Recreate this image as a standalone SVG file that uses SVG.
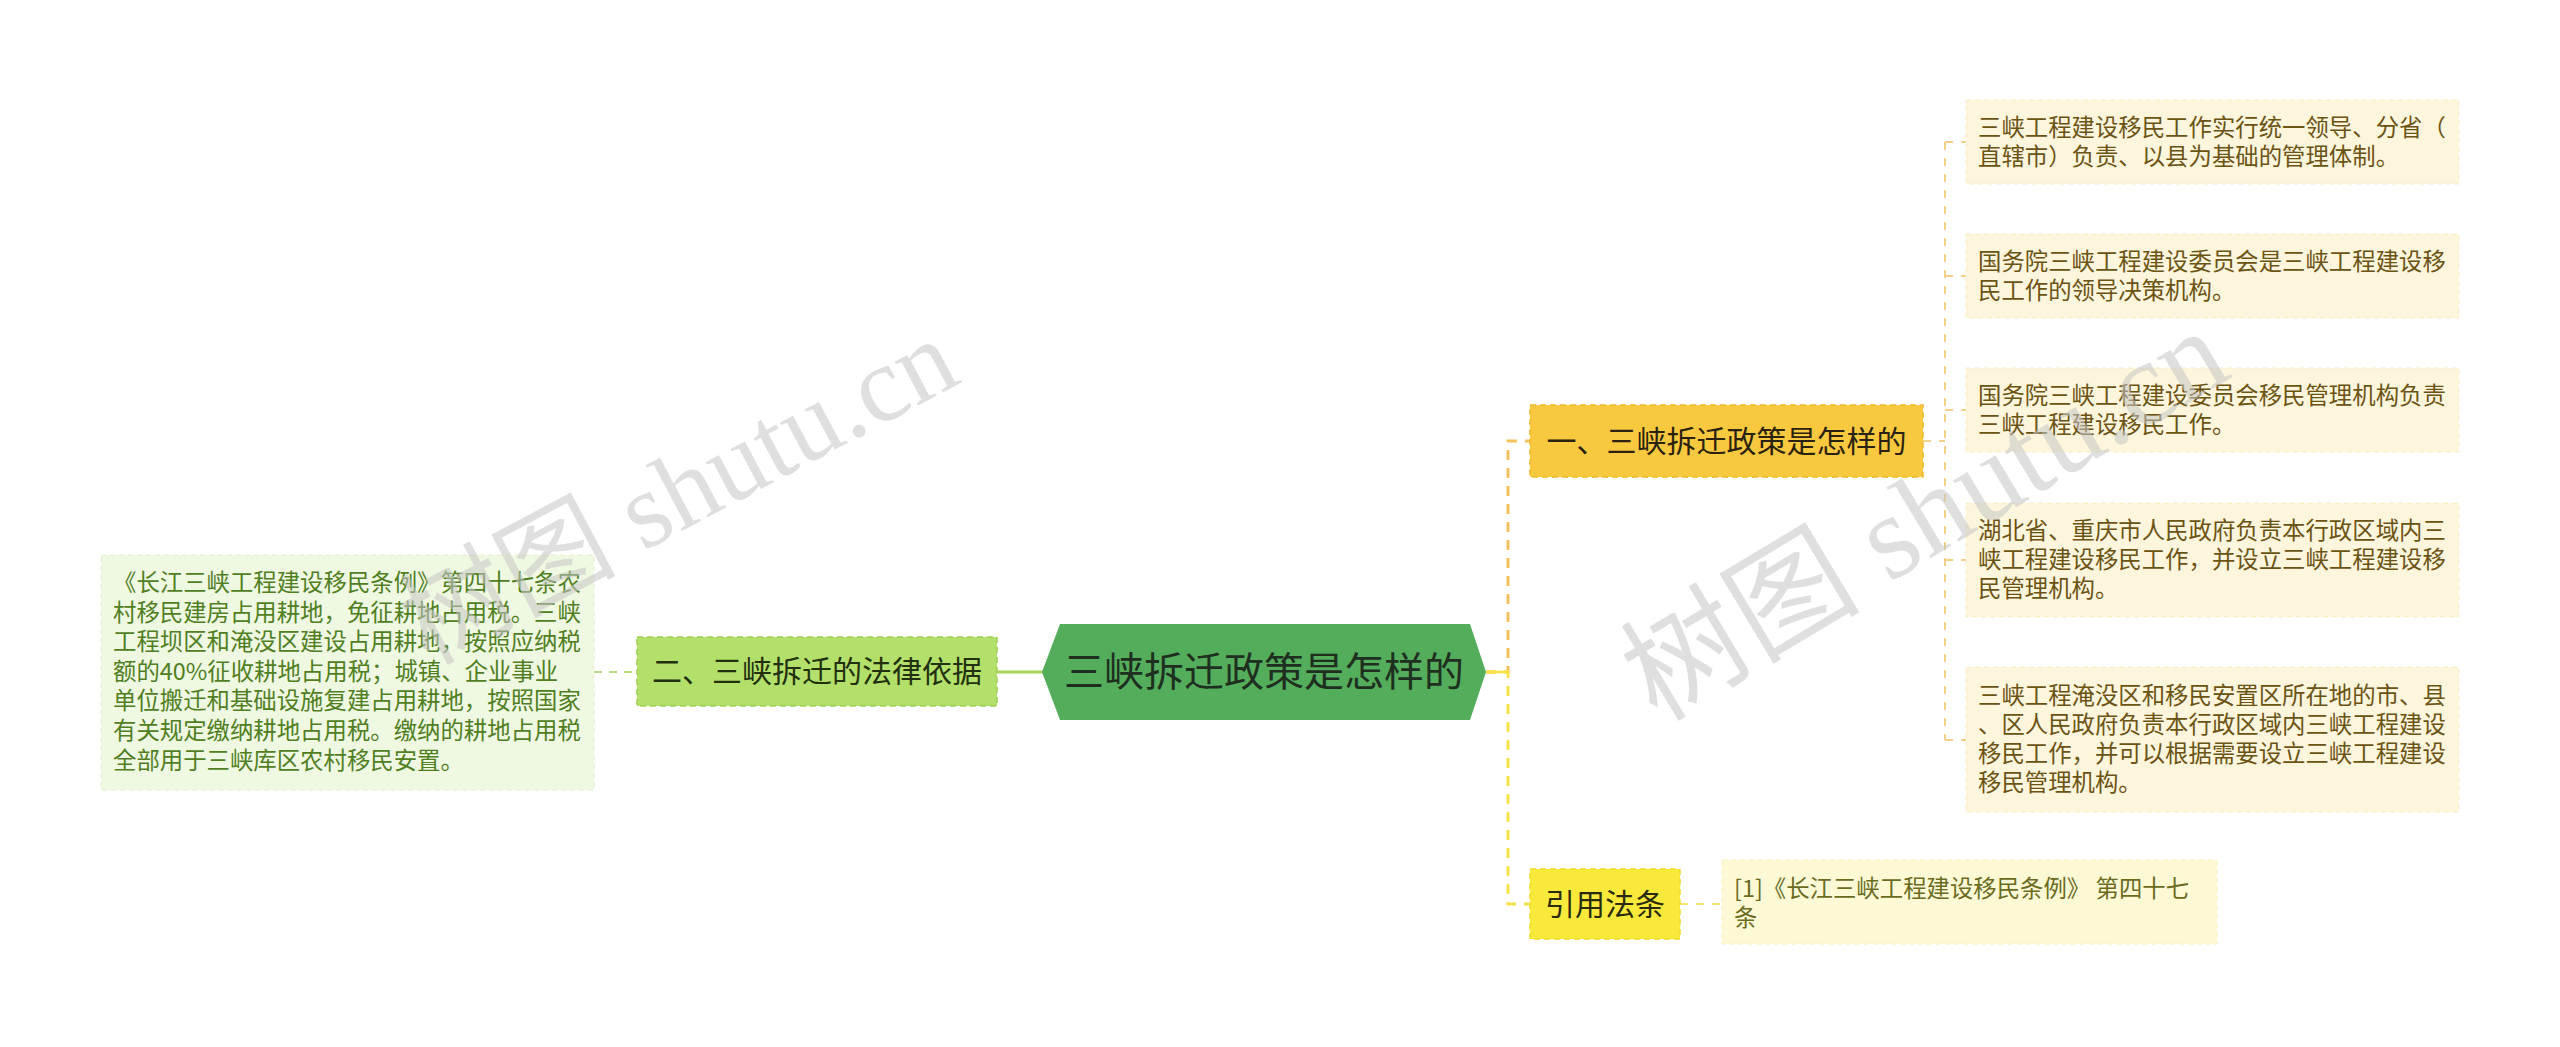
<svg xmlns="http://www.w3.org/2000/svg" width="2560" height="1047" viewBox="0 0 2560 1047">
<style>
.cjk{font-family:"Noto Sans CJK SC","Noto Sans",sans-serif;}
.leaf{font-size:23.4px;}
.mid{font-size:30px;}
.conn{fill:none;}
.wm{font-family:"Liberation Serif","Noto Sans CJK SC",serif;fill:#c4c4c4;fill-opacity:0.55;}
</style>
<rect width="2560" height="1047" fill="#ffffff"/>
<g id="connectors">
  <line x1="997" y1="672" x2="1044" y2="672" stroke="#a8d65a" stroke-width="3"/>
  <line x1="594" y1="672" x2="637" y2="672" stroke="#b8dd80" stroke-width="2" stroke-dasharray="8 7"/>
  <path class="conn" d="M1486 672 H1508 V441 H1530" stroke="#f4c25a" stroke-width="3" stroke-dasharray="10 8"/>
  <path class="conn" d="M1486 672 H1508 V904 H1530" stroke="#f7e24a" stroke-width="3" stroke-dasharray="10 8"/>
  <line x1="1486" y1="672" x2="1508" y2="672" stroke="#f7e24a" stroke-width="3"/>
  <path class="conn" d="M1923 441 H1945 M1945 142 V740 M1945 142 H1966 M1945 276 H1966 M1945 410 H1966 M1945 560 H1966 M1945 740 H1966" stroke="#f2d088" stroke-width="2" stroke-dasharray="8 8"/>
  <line x1="1680" y1="904" x2="1722" y2="904" stroke="#f6e67a" stroke-width="2" stroke-dasharray="8 8"/>
</g>
<g id="center">
  <polygon points="1042,672 1060,624 1470,624 1486,672 1470,720 1060,720" fill="#53ad5b"/>
  <text class="cjk" x="1264" y="686" font-size="40" text-anchor="middle" fill="#1f2f1f">三峡拆迁政策是怎样的</text>
</g>
<g id="n-law">
  <rect x="637" y="637" width="360" height="69" fill="#b3e06a" stroke="#9fcf55" stroke-width="1.5" stroke-dasharray="6 4"/>
  <text class="cjk mid" x="817" y="682" text-anchor="middle" fill="#22300f">二、三峡拆迁的法律依据</text>
</g>
<g id="leaf-law">
  <rect x="101" y="555" width="493" height="235" fill="#eff8e1" stroke="#e2f0cc" stroke-width="1" stroke-dasharray="5 4"/>
  <text class="cjk leaf" fill="#4f7f1e">
    <tspan x="113" y="591">《长江三峡工程建设移民条例》第四十七条农</tspan>
    <tspan x="113" y="620.6">村移民建房占用耕地，免征耕地占用税。三峡</tspan>
    <tspan x="113" y="650.2">工程坝区和淹没区建设占用耕地，按照应纳税</tspan>
    <tspan x="113" y="679.8">额的40%征收耕地占用税；城镇、企业事业</tspan>
    <tspan x="113" y="709.4">单位搬迁和基础设施复建占用耕地，按照国家</tspan>
    <tspan x="113" y="739">有关规定缴纳耕地占用税。缴纳的耕地占用税</tspan>
    <tspan x="113" y="768.6">全部用于三峡库区农村移民安置。</tspan>
  </text>
</g>
<g id="n-policy">
  <rect x="1530" y="405" width="393" height="72" fill="#f8c83f" stroke="#efb92f" stroke-width="1.5" stroke-dasharray="6 4"/>
  <text class="cjk mid" x="1726.5" y="451.5" text-anchor="middle" fill="#2a2210">一、三峡拆迁政策是怎样的</text>
</g>
<g id="leaf-1">
  <rect x="1966" y="100" width="493" height="84" fill="#fdf5dc" stroke="#f7ecc8" stroke-width="1" stroke-dasharray="5 4"/>
  <text class="cjk leaf" fill="#6b5312">
    <tspan x="1978" y="135.5">三峡工程建设移民工作实行统一领导、分省（</tspan>
    <tspan x="1978" y="164.5">直辖市）负责、以县为基础的管理体制。</tspan>
  </text>
</g>
<g id="leaf-2">
  <rect x="1966" y="234" width="493" height="84" fill="#fdf5dc" stroke="#f7ecc8" stroke-width="1" stroke-dasharray="5 4"/>
  <text class="cjk leaf" fill="#6b5312">
    <tspan x="1978" y="269.5">国务院三峡工程建设委员会是三峡工程建设移</tspan>
    <tspan x="1978" y="298.5">民工作的领导决策机构。</tspan>
  </text>
</g>
<g id="leaf-3">
  <rect x="1966" y="368" width="493" height="84" fill="#fdf5dc" stroke="#f7ecc8" stroke-width="1" stroke-dasharray="5 4"/>
  <text class="cjk leaf" fill="#6b5312">
    <tspan x="1978" y="403.5">国务院三峡工程建设委员会移民管理机构负责</tspan>
    <tspan x="1978" y="432.5">三峡工程建设移民工作。</tspan>
  </text>
</g>
<g id="leaf-4">
  <rect x="1966" y="503" width="493" height="114" fill="#fdf5dc" stroke="#f7ecc8" stroke-width="1" stroke-dasharray="5 4"/>
  <text class="cjk leaf" fill="#6b5312">
    <tspan x="1978" y="538.5">湖北省、重庆市人民政府负责本行政区域内三</tspan>
    <tspan x="1978" y="567.5">峡工程建设移民工作，并设立三峡工程建设移</tspan>
    <tspan x="1978" y="596.5">民管理机构。</tspan>
  </text>
</g>
<g id="leaf-5">
  <rect x="1966" y="667" width="493" height="145" fill="#fdf5dc" stroke="#f7ecc8" stroke-width="1" stroke-dasharray="5 4"/>
  <text class="cjk leaf" fill="#6b5312">
    <tspan x="1978" y="703.5">三峡工程淹没区和移民安置区所在地的市、县</tspan>
    <tspan x="1978" y="732.5">、区人民政府负责本行政区域内三峡工程建设</tspan>
    <tspan x="1978" y="761.5">移民工作，并可以根据需要设立三峡工程建设</tspan>
    <tspan x="1978" y="790.5">移民管理机构。</tspan>
  </text>
</g>
<g id="n-ref">
  <rect x="1530" y="869" width="150" height="70" fill="#f9e93b" stroke="#efdc2c" stroke-width="1.5" stroke-dasharray="6 4"/>
  <text class="cjk mid" x="1605" y="914.5" text-anchor="middle" fill="#2a2a10">引用法条</text>
</g>
<g id="leaf-ref">
  <rect x="1722" y="860" width="495" height="84" fill="#fdf9d5" stroke="#f7f0c0" stroke-width="1" stroke-dasharray="5 4"/>
  <text class="cjk leaf" fill="#6b6b1e">
    <tspan x="1734" y="896.5">[1]《长江三峡工程建设移民条例》 第四十七</tspan>
    <tspan x="1734" y="925.5">条</tspan>
  </text>
</g>
<g id="watermarks">
  <text class="wm" x="678" y="528" font-size="108" text-anchor="middle" transform="rotate(-28 678 490)">树图 shutu.cn</text>
  <text class="wm" x="1925" y="555" font-size="120" text-anchor="middle" transform="rotate(-31 1925 515)">树图 shutu.cn</text>
</g>
</svg>
